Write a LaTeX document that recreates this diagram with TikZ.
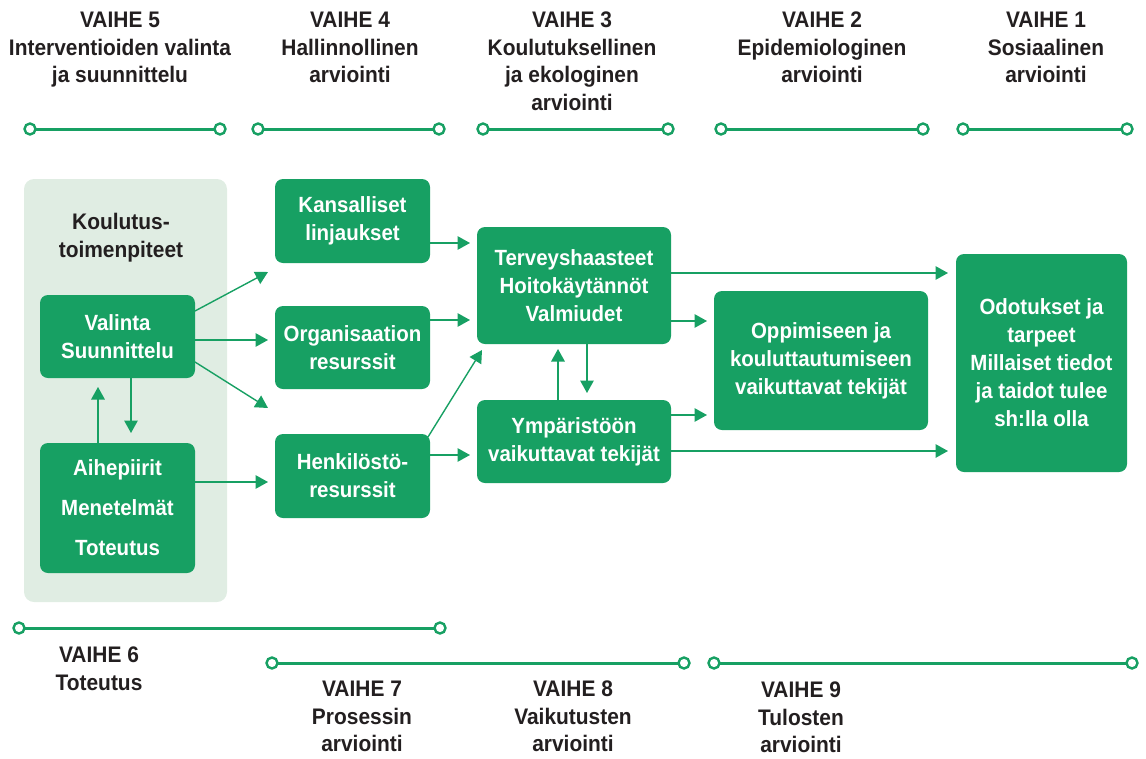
\documentclass[tikz,border=0pt]{standalone}
\usepackage{fontspec}
\setmainfont{Liberation Sans}
\newfontfamily\condf[FakeStretch=0.93]{Liberation Sans}
\usetikzlibrary{arrows.meta}
\definecolor{gr}{RGB}{23,160,99}
\definecolor{panelbg}{RGB}{224,237,227}
\definecolor{ink}{RGB}{35,31,32}
\tikzset{
  box/.style={fill=gr, rounded corners=8pt, text=white, font=\condf\bfseries\fontsize{22}{28}\selectfont, align=center, inner sep=0pt, outer sep=0pt},
  arr/.style={draw=gr, line width=1.4pt, -{Triangle[length=12.5pt,width=13.5pt]}},
  pdot/.style={circle, draw=gr, fill=white, line width=2.4pt, minimum size=11pt, inner sep=0pt, outer sep=0pt},
  phase/.style={draw=gr, line width=3pt},
  hdr/.style={font=\condf\bfseries\fontsize{22.5}{27.5}\selectfont, text=ink, align=center, anchor=north, inner sep=0pt}
}
\begin{document}
\begin{tikzpicture}[x=1pt,y=-1pt]
\useasboundingbox (0,0) rectangle (1146,758);
% panel
\fill[panelbg, rounded corners=10pt] (24,179) rectangle (227,602);
\node[hdr] (kt) at (121,213) {Koulutus-\\toimenpiteet};
% headers
\node[hdr] (h5) at (120,12) {VAIHE 5\\Interventioiden valinta\\ja suunnittelu};
\node[hdr] (h4) at (350,12) {VAIHE 4\\Hallinnollinen\\arviointi};
\node[hdr] (h3) at (572,12) {VAIHE 3\\Koulutuksellinen\\ja ekologinen\\arviointi};
\node[hdr] (h2) at (822,12) {VAIHE 2\\Epidemiologinen\\arviointi};
\node[hdr] (h1) at (1046,12) {VAIHE 1\\Sosiaalinen\\arviointi};
% top phase lines
\node[pdot] (a5) at (30,129) {}; \node[pdot] (b5) at (220,129) {};
\node[pdot] (a4) at (258,129) {}; \node[pdot] (b4) at (439,129) {};
\node[pdot] (a3) at (483,129) {}; \node[pdot] (b3) at (668,129) {};
\node[pdot] (a2) at (721,129) {}; \node[pdot] (b2) at (923,129) {};
\node[pdot] (a1) at (963,129) {}; \node[pdot] (b1) at (1127,129) {};
\draw[phase] (a5) -- (b5); \draw[phase] (a4) -- (b4); \draw[phase] (a3) -- (b3);
\draw[phase] (a2) -- (b2); \draw[phase] (a1) -- (b1);
% bottom phase lines
\node[pdot] (a6) at (19,628) {}; \node[pdot] (b6) at (440,628) {};
\node[pdot] (a7) at (272,663) {}; \node[pdot] (b7) at (684,663) {};
\node[pdot] (a9) at (714,663) {}; \node[pdot] (b9) at (1132,663) {};
\draw[phase] (a6) -- (b6); \draw[phase] (a7) -- (b7); \draw[phase] (a9) -- (b9);
\node[hdr] (h6) at (99,647) {VAIHE 6\\Toteutus};
\node[hdr] (h7) at (362,681) {VAIHE 7\\Prosessin\\arviointi};
\node[hdr] (h8) at (573,681) {VAIHE 8\\Vaikutusten\\arviointi};
\node[hdr] (h9) at (801,682) {VAIHE 9\\Tulosten\\arviointi};
% boxes
\node[box, minimum width=155pt, minimum height=83pt] (val) at (117.5,336.5) {Valinta\\Suunnittelu};
\node[box, minimum width=155pt, minimum height=130pt, font=\condf\bfseries\fontsize{22}{40}\selectfont] (aih) at (117.5,508) {Aihepiirit\\Menetelmät\\Toteutus};
\node[box, minimum width=155pt, minimum height=84pt] (kan) at (352.5,221) {Kansalliset\\linjaukset};
\node[box, minimum width=155pt, minimum height=83pt] (org) at (352.5,347.5) {Organisaation\\resurssit};
\node[box, minimum width=155pt, minimum height=84pt] (hen) at (352.5,476) {Henkilöstö-\\resurssit};
\node[box, minimum width=194pt, minimum height=117pt] (ter) at (574,285.5) {Terveyshaasteet\\Hoitokäytännöt\\Valmiudet};
\node[box, minimum width=194pt, minimum height=83pt] (ymp) at (574,441.5) {Ympäristöön\\vaikuttavat tekijät};
\node[box, minimum width=214pt, minimum height=139pt] (opp) at (821,360.5) {Oppimiseen ja\\kouluttautumiseen\\vaikuttavat tekijät};
\node[box, minimum width=171pt, minimum height=218pt] (odo) at (1041.5,363) {Odotukset ja\\tarpeet\\Millaiset tiedot\\ja taidot tulee\\sh:lla olla};
% free arrow ends
\coordinate (g1) at (268,272);
\coordinate (g2) at (268,408);
% arrows
\draw[arr] (val.east |- 0,311) -- (g1);
\draw[arr, shorten >=7pt] (val.east |- 0,340) -- (org.west |- 0,340);
\draw[arr] (val.east |- 0,362) -- (g2);
\draw[arr, shorten >=7pt] (aih.east |- 0,482) -- (hen.west |- 0,482);
\draw[arr, shorten >=9pt] (aih.north -| 98,0) -- (val.south -| 98,0);
\draw[arr, shorten >=10pt] (val.south -| 131,0) -- (aih.north -| 131,0);
\draw[arr, shorten >=7pt] (kan.east |- 0,243) -- (ter.west |- 0,243);
\draw[arr, shorten >=7pt] (org.east |- 0,320) -- (ter.west |- 0,320);
\draw[arr] ([xshift=-2pt,yshift=-3pt]hen.north east) -- ([xshift=5pt,yshift=-6pt]ter.south west);
\draw[arr, shorten >=7pt] (hen.east |- 0,455) -- (ymp.west |- 0,455);
\draw[arr, shorten >=5pt] (ymp.north -| 558,0) -- (ter.south -| 558,0);
\draw[arr, shorten >=7pt] (ter.south -| 587,0) -- (ymp.north -| 587,0);
\draw[arr, shorten >=7pt] (ter.east |- 0,321) -- (opp.west |- 0,321);
\draw[arr, shorten >=7pt] (ymp.east |- 0,415) -- (opp.west |- 0,415);
\draw[arr, shorten >=8pt] (ter.east |- 0,273) -- (odo.west |- 0,273);
\draw[arr, shorten >=8pt] (ymp.east |- 0,451) -- (odo.west |- 0,451);
\end{tikzpicture}
\end{document}
